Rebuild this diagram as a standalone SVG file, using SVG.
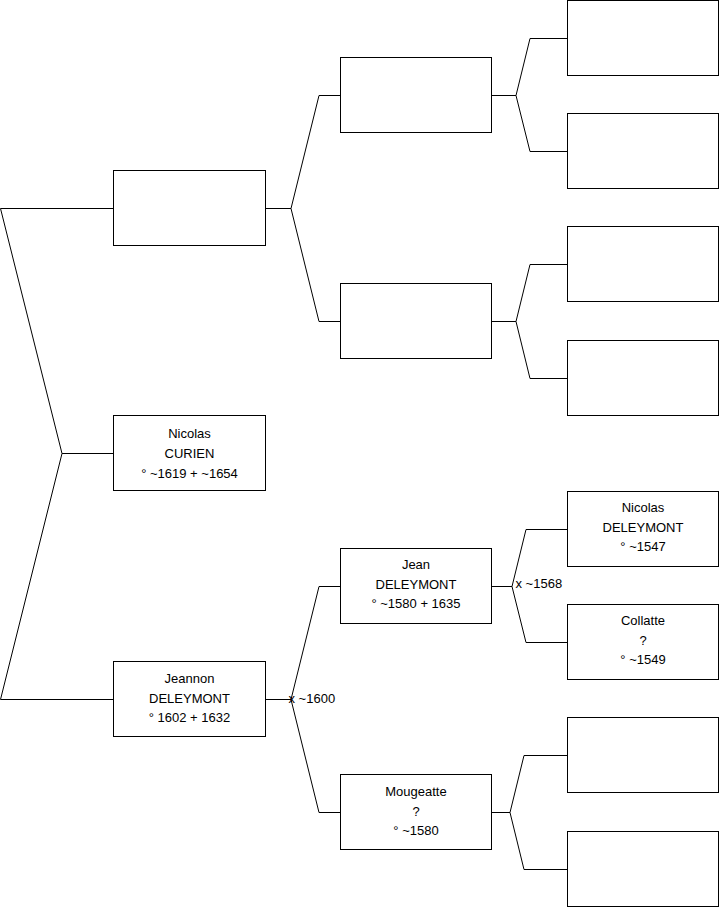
<svg xmlns="http://www.w3.org/2000/svg" width="719" height="908" viewBox="0 0 719 908">
<style>
.box{fill:#fff;stroke:#000;stroke-width:1}
.ln{fill:none;stroke:#000;stroke-width:1}
text{font-family:"Liberation Sans",Arial,sans-serif;font-size:13px;fill:#000}
.c{text-anchor:middle}
</style>
<rect width="719" height="908" fill="#fff"/>
<g id="connectors">
<path class="ln" d="M0.5,208.5 H113.5 M0.5,208.5 L62,453.5 H113.5 M62,453.5 L0.5,699.5 H113.5"/>
<path class="ln" d="M265.5,208.5 H291 L319,95.5 H340.5 M291,208.5 L319,321.5 H340.5"/>
<path class="ln" d="M265.5,699.5 H291 L319,586.5 H340.5 M291,699.5 L319,812.5 H340.5"/>
<path class="ln" d="M491.5,95.5 H516 L530,38.5 H567.5 M516,95.5 L530,151.5 H567.5"/>
<path class="ln" d="M491.5,321.5 H516 L530,264.5 H567.5 M516,321.5 L530,378.5 H567.5"/>
<path class="ln" d="M491.5,586.5 H512 L526,529.5 H567.5 M512,586.5 L526,642.5 H567.5"/>
<path class="ln" d="M491.5,812.5 H510 L524,755.5 H567.5 M510,812.5 L524,869.5 H567.5"/>
<text x="288.5" y="703">x ~1600</text>
<text x="515.5" y="588">x ~1568</text>
</g>
<g id="n1"><rect class="box" x="113.5" y="170.5" width="152" height="75"/></g>
<g id="n2"><rect class="box" x="113.5" y="415.5" width="152" height="75"/>
<text class="c" x="189.5" y="438">Nicolas</text><text class="c" x="189.5" y="458">CURIEN</text><text class="c" x="189.5" y="477.5">° ~1619 + ~1654</text></g>
<g id="n3"><rect class="box" x="113.5" y="661.5" width="152" height="75"/>
<text class="c" x="189.5" y="683">Jeannon</text><text class="c" x="189.5" y="703">DELEYMONT</text><text class="c" x="189.5" y="722">° 1602 + 1632</text></g>
<g id="n4"><rect class="box" x="340.5" y="57.5" width="151" height="75"/></g>
<g id="n5"><rect class="box" x="340.5" y="283.5" width="151" height="75"/></g>
<g id="n6"><rect class="box" x="340.5" y="548.5" width="151" height="75"/>
<text class="c" x="416" y="569">Jean</text><text class="c" x="416" y="589">DELEYMONT</text><text class="c" x="416" y="608">° ~1580 + 1635</text></g>
<g id="n7"><rect class="box" x="340.5" y="774.5" width="151" height="75"/>
<text class="c" x="416" y="796">Mougeatte</text><text class="c" x="416" y="816">?</text><text class="c" x="416" y="835">° ~1580</text></g>
<g id="n8"><rect class="box" x="567.5" y="0.5" width="151" height="75"/></g>
<g id="n9"><rect class="box" x="567.5" y="113.5" width="151" height="75"/></g>
<g id="n10"><rect class="box" x="567.5" y="226.5" width="151" height="75"/></g>
<g id="n11"><rect class="box" x="567.5" y="340.5" width="151" height="75"/></g>
<g id="n12"><rect class="box" x="567.5" y="491.5" width="151" height="75"/>
<text class="c" x="643" y="512">Nicolas</text><text class="c" x="643" y="532">DELEYMONT</text><text class="c" x="643" y="551">° ~1547</text></g>
<g id="n13"><rect class="box" x="567.5" y="604.5" width="151" height="75"/>
<text class="c" x="643" y="625">Collatte</text><text class="c" x="643" y="645">?</text><text class="c" x="643" y="664">° ~1549</text></g>
<g id="n14"><rect class="box" x="567.5" y="717.5" width="151" height="75"/></g>
<g id="n15"><rect class="box" x="567.5" y="831.5" width="151" height="75"/></g>
</svg>
